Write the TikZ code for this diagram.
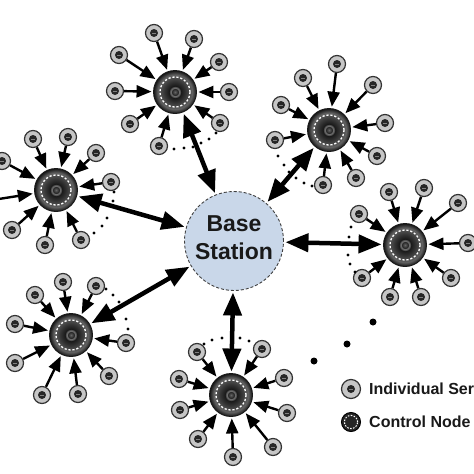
\documentclass[tikz,border=0pt]{standalone}
\usepackage{fontspec}
\setmainfont{Liberation Sans}
\usetikzlibrary{arrows.meta}
\definecolor{basefill}{HTML}{C9D7E9}
\definecolor{sensorfill}{HTML}{C6C6C6}
\pgfdeclareradialshading{ctrlshade}{\pgfpoint{0bp}{0bp}}{%
  color(0bp)=(black!60);
  color(3.5bp)=(black!85);
  color(5bp)=(black!50);
  color(7bp)=(black!90);
  color(13bp)=(black!78);
  color(20bp)=(black!62);
  color(25bp)=(black!92);
  color(50bp)=(black!92)}
\tikzset{
  sensor/.style={circle,draw=black!80,line width=1.2pt,fill=sensorfill,minimum size=17pt,inner sep=0pt,
    path picture={
      \fill[black!85] (path picture bounding box.center) circle (4pt);
      \fill[black!50] ([xshift=-1.6pt,yshift=-.4pt]path picture bounding box.center) rectangle ([xshift=1.6pt,yshift=.4pt]path picture bounding box.center);
    }},
  control/.style={circle,draw=black!90,line width=.9pt,minimum size=43pt,inner sep=0pt,shading=ctrlshade,
    path picture={
      \draw[white,line width=1.3pt,dash pattern=on 2.2pt off 1.8pt] (path picture bounding box.center) circle (15pt);
    }},
  legendcontrol/.style={circle,draw=black,line width=1pt,minimum size=19pt,inner sep=0pt,fill=black!85,
    path picture={
      \draw[white,line width=1pt,dash pattern=on 1.6pt off 1.4pt] (path picture bounding box.center) circle (6.6pt);
    }},
  basenode/.style={circle,draw=black!75,line width=.9pt,densely dashed,fill=basefill,minimum size=99pt,inner sep=0pt},
  feed/.style={-{Triangle[length=15pt,width=12pt]},line width=2.4pt,black,shorten >=1.5pt},
  uplink/.style={{Triangle[length=23pt,width=18pt]}-{Triangle[length=23pt,width=18pt]},line width=4.5pt,black,shorten >=1.5pt,shorten <=1.5pt},
  smalldot/.style={circle,fill=black,minimum size=3.4pt,inner sep=0pt},
  bigdot/.style={circle,fill=black,minimum size=7pt,inner sep=0pt},
  baselabel/.style={font=\fontsize{23}{28}\selectfont\bfseries,align=center,text=black!90,inner sep=0pt},
  legendlabel/.style={font=\fontsize{16}{18}\selectfont\bfseries,anchor=base west,inner sep=0pt,text=black!90}
}
\newcommand\clusterat[4]{%
  \node[control] (#1) at (#2,#3) {};
  \foreach \sx/\sy [count=\i] in {#4} {
    \node[sensor] (#1\i) at (\sx,\sy) {};
    \draw[feed] (#1\i) -- (#1);
  }
}
\begin{document}
\begin{tikzpicture}[x=1pt,y=-1pt]
\clip (0,0) rectangle (474,474);
\fill[white] (0,0) rectangle (474,474);
\node[basenode] (bs) at (234,241) {};
\node[baselabel] (bslabel) at (234,237.5) {Base\\Station};
\clusterat{a}{175}{92}{154/33,119/55,115/91,130/124,159/146,220/123,229/92,219/62,194/39}
\clusterat{b}{329}{130}{337/64,303/78,281/105,275/140,323/185,356/178,377/156,385/123,373/85}
\clusterat{c}{405}{245}{389/192,424/188,458/203,468/243,451/278,421/297,390/297,362/278,359/214}
\clusterat{d}{56}{190}{33/139,68/137,96/153,111/182,81/240,45/245,12/230,2/161,-14/201}
\clusterat{e}{71}{335}{63/282,96/286,35/295,15/324,15/363,42/395,78/394,109/376,126/343}
\clusterat{f}{231}{395}{197/352,262/349,284/378,287/413,273/447,233/457,198/439,180/410,179/379}
\foreach \c in {a,b,c,d,e,f} { \draw[uplink] (\c) -- (bs); }
\foreach \x/\y [count=\i] in {174/149,184/148,193/147,201/143,209/139,216/133,
  114/192,113/201,107/218,102/226,94/233,
  278/156,284/165,289/172,296/178,304/183,312/186,
  351/227,349/237,348/255,350/264,355/272,
  106/289,113/295,119/302,126/319,128/329,
  204/344,212/340,222/338,240/338,249/341}
  { \node[smalldot] (dot\i) at (\x,\y) {}; }
\node[bigdot] (more1) at (373,322) {};
\node[bigdot] (more2) at (347,344) {};
\node[bigdot] (more3) at (314,361) {};
\node[sensor,minimum size=19pt] (legsensor) at (351,389) {};
\node[legendcontrol] (legcontrol) at (351,422) {};
\node[legendlabel] (legsensortext) at (369,394) {Individual Ser};
\node[legendlabel] (legcontroltext) at (369,427) {Control Node};
\end{tikzpicture}
\end{document}
